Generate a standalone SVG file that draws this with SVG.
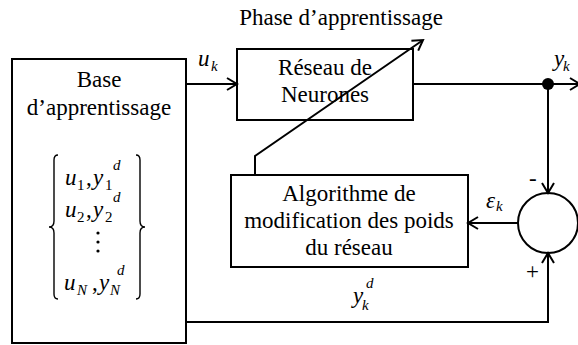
<svg xmlns="http://www.w3.org/2000/svg" width="578" height="345" viewBox="0 0 578 345">
<rect width="578" height="345" fill="#fff"/>

<text font-family="Times New Roman" font-size="23" text-anchor="middle" x="341" y="25">Phase d’apprentissage</text>

<g id="base">
<rect x="12" y="59" width="174" height="284" fill="#fff" stroke="#000" stroke-width="2"/>
<text font-family="Times New Roman" font-size="23" text-anchor="middle" x="99" y="87">Base</text>
<text font-family="Times New Roman" font-size="23" text-anchor="middle" x="99" y="115">d’apprentissage</text>
<path d="M58,155 Q54,155 54,160 L54,221 Q54,227 49,227 Q54,227 54,233 L54,294 Q54,299 58,299" fill="none" stroke="#000" stroke-width="1.4"/>
<path d="M136,155 Q140,155 140,160 L140,221 Q140,227 145,227 Q140,227 140,233 L140,294 Q140,299 136,299" fill="none" stroke="#000" stroke-width="1.4"/>
<text font-family="Times New Roman" font-size="23" font-style="italic" x="65" y="185">u</text>
<text font-family="Times New Roman" font-size="23" font-style="italic" x="93" y="185">y</text>
<text font-family="Times New Roman" font-size="23" font-style="italic" x="65" y="217">u</text>
<text font-family="Times New Roman" font-size="23" font-style="italic" x="93" y="217">y</text>
<text font-family="Times New Roman" font-size="23" font-style="italic" x="64" y="290">u</text>
<text font-family="Times New Roman" font-size="23" font-style="italic" x="99" y="290">y</text>
<text font-family="Times New Roman" font-size="23" x="86" y="185">,</text>
<text font-family="Times New Roman" font-size="23" x="86" y="217">,</text>
<text font-family="Times New Roman" font-size="23" x="92" y="290">,</text>
<text font-family="Times New Roman" font-size="15" x="77" y="190">1</text>
<text font-family="Times New Roman" font-size="15" x="105" y="190">1</text>
<text font-family="Times New Roman" font-size="15" x="77" y="222">2</text>
<text font-family="Times New Roman" font-size="15" x="105" y="222">2</text>
<text font-family="Times New Roman" font-size="15" font-style="italic" x="113" y="170">d</text>
<text font-family="Times New Roman" font-size="15" font-style="italic" x="113" y="202">d</text>
<text font-family="Times New Roman" font-size="15" font-style="italic" x="77" y="295">N</text>
<text font-family="Times New Roman" font-size="15" font-style="italic" x="110" y="295">N</text>
<text font-family="Times New Roman" font-size="15" font-style="italic" x="117" y="275">d</text>
<circle cx="98" cy="233" r="1.6"/><circle cx="98" cy="242" r="1.6"/><circle cx="98" cy="251" r="1.6"/>
</g>

<g id="reseau">
<rect x="237" y="49" width="176" height="71" fill="#fff" stroke="#000" stroke-width="2"/>
<text font-family="Times New Roman" font-size="23" text-anchor="middle" x="325" y="75">Réseau de</text>
<text font-family="Times New Roman" font-size="23" text-anchor="middle" x="325" y="102">Neurones</text>
</g>

<g id="algo">
<rect x="231" y="175" width="237" height="92" fill="#fff" stroke="#000" stroke-width="2"/>
<text font-family="Times New Roman" font-size="23" text-anchor="middle" x="349" y="201">Algorithme de</text>
<text font-family="Times New Roman" font-size="23" text-anchor="middle" x="349" y="228">modification des poids</text>
<text font-family="Times New Roman" font-size="23" text-anchor="middle" x="349" y="255">du réseau</text>
</g>

<g id="sum">
<circle cx="548" cy="223" r="30" fill="#fff" stroke="#000" stroke-width="2"/>
</g>

<g id="junction">
<circle cx="548" cy="84" r="6" fill="#000"/>
</g>

<g id="connectors" fill="none" stroke="#000" stroke-width="2">
<line x1="186" y1="84" x2="236" y2="84"/>
<path d="M227,78 L237,84 L227,90"/>
<line x1="413" y1="84" x2="579" y2="84"/>
<path d="M570,78 L580,84 L570,90"/>
<line x1="548" y1="84" x2="548" y2="192"/>
<path d="M542,183 L548,193 L554,183"/>
<line x1="518" y1="223" x2="469" y2="223"/>
<path d="M478,217 L468,223 L478,229"/>
<polyline points="186,322 548,322 548,254"/>
<path d="M542,263 L548,253 L554,263"/>
<polyline points="255,175 255,156 422,40.7"/>
<path d="M411.4,40.8 L423,40 L418.2,50.6"/>
</g>

<g id="labels">
<text font-family="Times New Roman" font-size="23" font-style="italic" x="198" y="66">u</text>
<text font-family="Times New Roman" font-size="23" font-style="italic" x="554" y="66">y</text>
<text font-family="Times New Roman" font-size="23" font-style="italic" x="486" y="208">ε</text>
<text font-family="Times New Roman" font-size="23" font-style="italic" x="353" y="303">y</text>
<text font-family="Times New Roman" font-size="15" font-style="italic" x="211" y="71">k</text>
<text font-family="Times New Roman" font-size="15" font-style="italic" x="563" y="71">k</text>
<text font-family="Times New Roman" font-size="15" font-style="italic" x="496" y="211">k</text>
<text font-family="Times New Roman" font-size="15" font-style="italic" x="362" y="310">k</text>
<text font-family="Times New Roman" font-size="15" font-style="italic" x="366" y="288">d</text>
<text font-family="Times New Roman" font-size="23" x="529" y="186">-</text>
<text font-family="Times New Roman" font-size="23" x="526" y="279">+</text>
</g>
</svg>
